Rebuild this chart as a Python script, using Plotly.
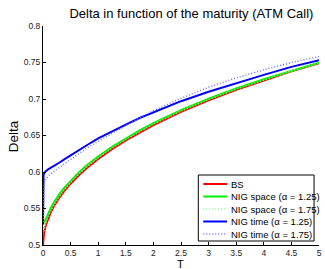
import plotly.graph_objects as go

T = [0, 0.005, 0.01, 0.02, 0.05, 0.1, 0.15, 0.2, 0.3, 0.4, 0.5, 0.65, 0.8,
     1, 1.25, 1.5, 1.75, 2, 2.5, 3, 3.5, 4, 4.5, 5]

bs = [0.5, 0.5085, 0.5120, 0.5169, 0.5267, 0.5378, 0.5463, 0.5534, 0.5653, 0.5752,
      0.5840, 0.5956, 0.6058, 0.6179, 0.6313, 0.6433, 0.6543, 0.6643, 0.6824,
      0.6983, 0.7127, 0.7257, 0.7378, 0.7489]

nig_space_125 = [0.528, 0.529, 0.530, 0.532, 0.535, 0.544, 0.552, 0.5585, 0.570, 0.5795,
                 0.588, 0.5995, 0.6095, 0.6213, 0.6345, 0.6463, 0.6571, 0.6669, 0.6847,
                 0.7003, 0.7144, 0.7271, 0.7389, 0.7497]

nig_space_175 = [0.515, 0.517, 0.519, 0.522, 0.530, 0.540, 0.548, 0.555, 0.567, 0.577,
                 0.5857, 0.5973, 0.6075, 0.6195, 0.6328, 0.6447, 0.6556, 0.6655, 0.6835,
                 0.6993, 0.7136, 0.7264, 0.7384, 0.7493]

nig_time_125 = [0.528, 0.592, 0.596, 0.598, 0.601, 0.604, 0.606, 0.609, 0.613, 0.618,
                0.623, 0.630, 0.637, 0.646, 0.656, 0.665, 0.674, 0.682, 0.697,
                0.710, 0.722, 0.733, 0.744, 0.753]

nig_time_175 = [0.515, 0.570, 0.578, 0.584, 0.590, 0.595, 0.598, 0.601, 0.607, 0.612,
                0.617, 0.625, 0.633, 0.642, 0.653, 0.664, 0.674, 0.684, 0.701,
                0.716, 0.729, 0.740, 0.750, 0.758]

x_ticks = [0, 0.5, 1, 1.5, 2, 2.5, 3, 3.5, 4, 4.5, 5]
x_tick_labels = ["0", "0.5", "1", "1.5", "2", "2.5", "3", "3.5", "4", "4.5", "5"]
y_ticks = [0.5, 0.55, 0.6, 0.65, 0.7, 0.75, 0.8]
y_tick_labels = ["0.5", "0.55", "0.6", "0.65", "0.7", "0.75", "0.8"]

names = ["BS", "NIG space (α = 1.25)", "NIG space (α = 1.75)",
         "NIG time (α = 1.25)", "NIG time (α = 1.75)"]
series = [bs, nig_space_125, nig_space_175, nig_time_125, nig_time_175]
colors = ["#ff0000", "#00ee00", "#88ff88", "#0000ff", "#7070ff"]
dashes = ["solid", "solid", "1px,2px", "solid", "1px,2px"]
widths = [2, 2, 1.5, 2, 1.5]

FONT = "Arial, Liberation Sans, Helvetica, sans-serif"

fig = go.Figure()
for nm, ys, c, d, w in zip(names, series, colors, dashes, widths):
    fig.add_trace(go.Scatter(x=T, y=ys, mode="lines", name=nm,
                             line=dict(color=c, dash=d, width=w),
                             showlegend=False, hoverinfo="skip"))

# plot area in pixels: x 43..322, y 26..245
L, R, TOP, BOT = 43, 322, 26, 245
W, H = 325, 269
pw, ph = R - L, BOT - TOP

def px(xp):
    return (xp - L) / pw

def py(yp):
    return (BOT - yp) / ph

shapes = []
annotations = []

# custom legend box
shapes.append(dict(type="rect", xref="paper", yref="paper",
                   x0=px(200), x1=px(317), y0=py(241), y1=py(175),
                   line=dict(color="black", width=1), fillcolor="white", layer="above"))
entry_y = [184, 196.5, 209, 221.5, 234]
for nm, c, d, w, yy in zip(names, colors, dashes, widths, entry_y):
    shapes.append(dict(type="line", xref="paper", yref="paper",
                       x0=px(205), x1=px(229), y0=py(yy), y1=py(yy),
                       line=dict(color=c, dash=d, width=w), layer="above"))
    annotations.append(dict(text=nm, xref="paper", yref="paper",
                            x=px(231), y=py(yy), xanchor="left", yanchor="middle",
                            showarrow=False, font=dict(family=FONT, size=9.5, color="black")))

# axis labels
annotations.append(dict(text="Delta", xref="paper", yref="paper",
                        x=px(13), y=py(136), textangle=-90, xanchor="center", yanchor="middle",
                        showarrow=False, font=dict(family=FONT, size=13.5, color="black")))
annotations.append(dict(text="T", xref="paper", yref="paper",
                        x=px(182), y=py(263.5), xanchor="center", yanchor="middle",
                        height=10, showarrow=False,
                        font=dict(family=FONT, size=11, color="black")))

fig.update_layout(
    width=W, height=H,
    margin=dict(l=L, r=W - R, t=TOP, b=H - BOT, pad=0),
    paper_bgcolor="white", plot_bgcolor="white",
    hovermode=False,
    title=dict(text="Delta in function of the maturity (ATM Call)",
               x=px(193), xref="paper", xanchor="center",
               y=1 - 13 / H, yref="container", yanchor="middle",
               font=dict(family=FONT, size=13, color="black")),
    shapes=shapes, annotations=annotations,
    xaxis=dict(range=[0, 5], tickvals=x_ticks, ticktext=x_tick_labels,
               showgrid=False, zeroline=False, showline=True, linecolor="black",
               linewidth=1, ticks="inside", ticklen=3, tickcolor="black",
               tickfont=dict(family=FONT, size=8.5, color="#222")),
    yaxis=dict(range=[0.5, 0.8], tickvals=y_ticks, ticktext=y_tick_labels,
               showgrid=False, zeroline=False, showline=True, linecolor="black",
               linewidth=1, ticks="inside", ticklen=3, tickcolor="black",
               tickfont=dict(family=FONT, size=8.5, color="#222")),
)

fig.write_html("out.html", config={"displayModeBar": False},
               post_script="document.body.style.margin='0';document.body.style.overflow='hidden';")
